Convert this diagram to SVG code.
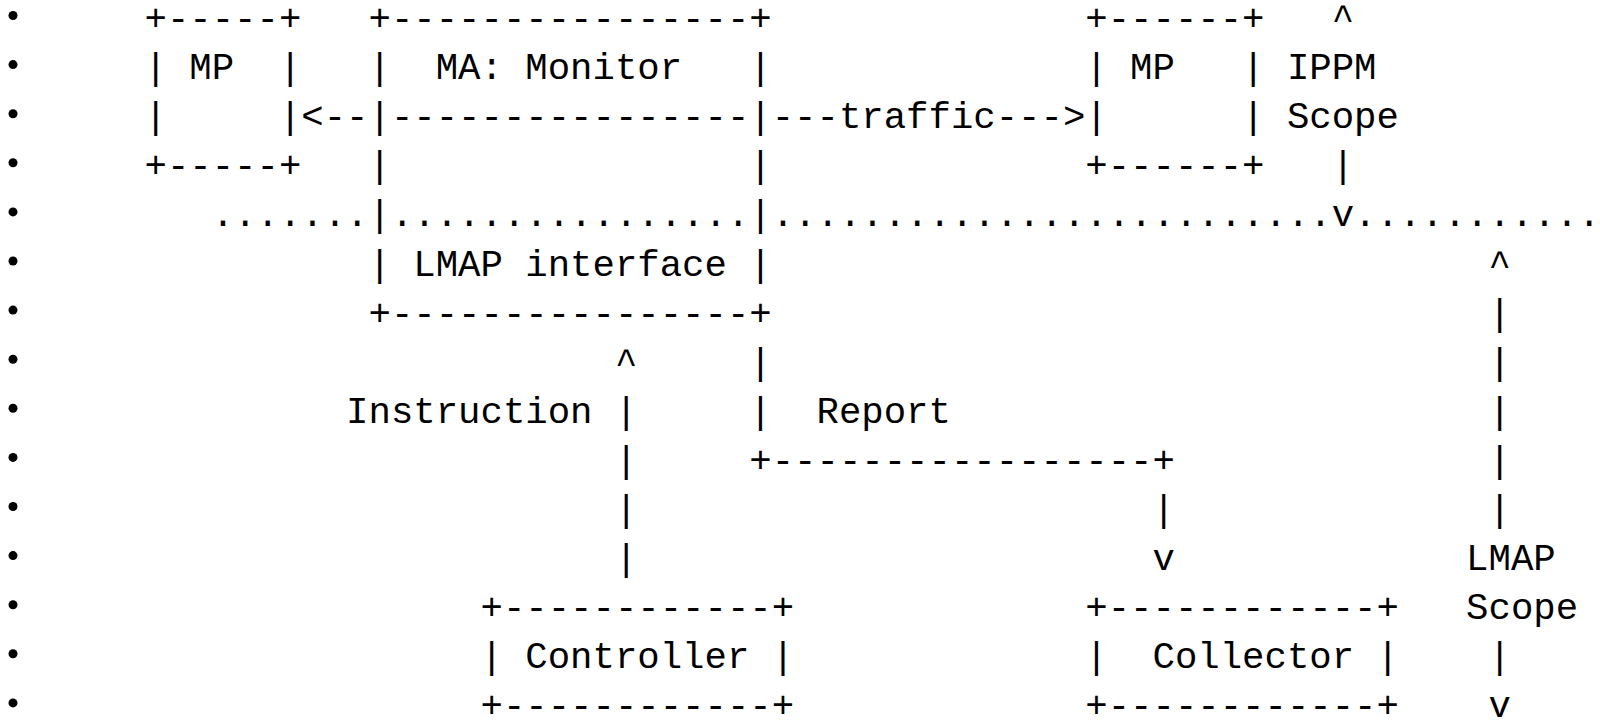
<svg xmlns="http://www.w3.org/2000/svg" width="1600" height="720" viewBox="0 0 1600 720">
<style>
  text { font-family: "Liberation Mono", "DejaVu Sans Mono", monospace; font-size: 37.33px; fill: #000; }
  .b { fill: #000; }
</style>
<rect width="1600" height="720" fill="#fff"/>
<g id="bullets">
  <circle class="b" cx="13" cy="15.5" r="4.5"/>
  <circle class="b" cx="13" cy="64.6" r="4.5"/>
  <circle class="b" cx="13" cy="113.7" r="4.5"/>
  <circle class="b" cx="13" cy="162.8" r="4.5"/>
  <circle class="b" cx="13" cy="211.9" r="4.5"/>
  <circle class="b" cx="13" cy="261" r="4.5"/>
  <circle class="b" cx="13" cy="310.1" r="4.5"/>
  <circle class="b" cx="13" cy="359.2" r="4.5"/>
  <circle class="b" cx="13" cy="408.3" r="4.5"/>
  <circle class="b" cx="13" cy="457.4" r="4.5"/>
  <circle class="b" cx="13" cy="506.5" r="4.5"/>
  <circle class="b" cx="13" cy="555.6" r="4.5"/>
  <circle class="b" cx="13" cy="604.7" r="4.5"/>
  <circle class="b" cx="13" cy="653.8" r="4.5"/>
  <circle class="b" cx="13" cy="702.9" r="4.5"/>
</g>
<g id="mp-left">
  <text x="144.5" y="30">+-----+</text>
  <text x="144.5" y="79.1">|</text>
  <text x="189.3" y="79.1">MP</text>
  <text x="278.9" y="79.1">|</text>
  <text x="144.5" y="128.2">|</text>
  <text x="278.9" y="128.2">|</text>
  <text x="144.5" y="177.3">+-----+</text>
</g>
<g id="ma-monitor">
  <text x="368.5" y="30">+----------------+</text>
  <text x="368.5" y="79.1">|</text>
  <text x="435.7" y="79.1">MA: Monitor</text>
  <text x="749.3" y="79.1">|</text>
  <text x="368.5" y="128.2">|----------------|</text>
  <text x="368.5" y="177.3">|</text>
  <text x="749.3" y="177.3">|</text>
  <text x="368.5" y="226.4">|</text>
  <text x="749.3" y="226.4">|</text>
  <text x="368.5" y="275.5">|</text>
  <text x="413.3" y="275.5">LMAP interface</text>
  <text x="749.3" y="275.5">|</text>
  <text x="368.5" y="324.6">+----------------+</text>
</g>
<g id="mp-right">
  <text x="1085.3" y="30">+------+</text>
  <text x="1085.3" y="79.1">|</text>
  <text x="1130.1" y="79.1">MP</text>
  <text x="1242.1" y="79.1">|</text>
  <text x="1085.3" y="128.2">|</text>
  <text x="1242.1" y="128.2">|</text>
  <text x="1085.3" y="177.3">+------+</text>
</g>
<g id="controller">
  <text x="480.5" y="619.2">+------------+</text>
  <text x="480.5" y="668.3">|</text>
  <text x="525.3" y="668.3">Controller</text>
  <text x="771.7" y="668.3">|</text>
  <text x="480.5" y="717.4">+------------+</text>
</g>
<g id="collector">
  <text x="1085.3" y="619.2">+------------+</text>
  <text x="1085.3" y="668.3">|</text>
  <text x="1152.5" y="668.3">Collector</text>
  <text x="1376.5" y="668.3">|</text>
  <text x="1085.3" y="717.4">+------------+</text>
</g>
<g id="connectors">
  <text x="301.3" y="128.2">&lt;--</text>
  <text x="771.7" y="128.2">---traffic---&gt;</text>
  <text x="211.7" y="226.4">.......</text>
  <text x="390.9" y="226.4">................</text>
  <text x="771.7" y="226.4">.........................</text>
  <text x="1354.1" y="226.4">...........</text>
  <text x="614.9" y="373.7">^</text>
  <text x="614.9" y="422.8">|</text>
  <text x="614.9" y="471.9">|</text>
  <text x="614.9" y="521">|</text>
  <text x="614.9" y="570.1">|</text>
  <text x="749.3" y="373.7">|</text>
  <text x="749.3" y="422.8">|</text>
  <text x="749.3" y="471.9">+-----------------+</text>
  <text x="1152.5" y="521">|</text>
  <text x="1152.5" y="570.1">v</text>
  <text x="346.1" y="422.8">Instruction</text>
  <text x="816.5" y="422.8">Report</text>
</g>
<g id="ippm-scope">
  <text x="1331.7" y="30">^</text>
  <text x="1286.9" y="79.1">IPPM</text>
  <text x="1286.9" y="128.2">Scope</text>
  <text x="1331.7" y="177.3">|</text>
  <text x="1331.7" y="226.4">v</text>
</g>
<g id="lmap-scope">
  <text x="1488.5" y="275.5">^</text>
  <text x="1488.5" y="324.6">|</text>
  <text x="1488.5" y="373.7">|</text>
  <text x="1488.5" y="422.8">|</text>
  <text x="1488.5" y="471.9">|</text>
  <text x="1488.5" y="521">|</text>
  <text x="1466.1" y="570.1">LMAP</text>
  <text x="1466.1" y="619.2">Scope</text>
  <text x="1488.5" y="668.3">|</text>
  <text x="1488.5" y="717.4">v</text>
</g>
</svg>
